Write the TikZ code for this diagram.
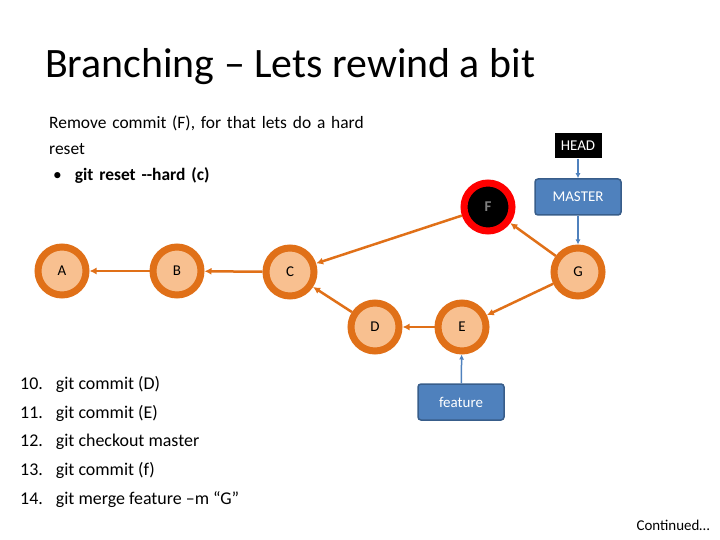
\documentclass[tikz,border=0pt]{standalone}
\usepackage{fontspec}
\setmainfont{Carlito}
\usepackage{xcolor}
\usetikzlibrary{arrows.meta,positioning}
\definecolor{commitfill}{HTML}{F8C090}
\definecolor{commitline}{HTML}{E07018}
\definecolor{refblue}{HTML}{4F81BD}
\definecolor{refline}{HTML}{385D8A}
\begin{document}
\begin{tikzpicture}[
  x=1bp, y=-1bp,
  commit/.style={circle, draw=commitline, fill=commitfill, line width=7bp, minimum size=48bp, inner sep=0pt, font=\fontsize{15}{18}\selectfont},
  gone/.style={commit, draw=red, fill=black, text=gray, font=\fontsize{15}{18}\selectfont\bfseries},
  ref/.style={draw=refline, fill=refblue, text=white, rounded corners=3bp, line width=1.5bp, minimum width=86bp, minimum height=36bp, font=\fontsize{15}{18}\selectfont},
  arr/.style={-{Latex[length=7bp,width=7bp]}, commitline, line width=2.5bp},
  refarr/.style={-{Latex[length=5bp,width=5bp]}, refblue, line width=1.5bp}
]
  \useasboundingbox (0,0) rectangle (720,540);
  \node[anchor=west, inner sep=0pt, font=\fontsize{42}{48}\selectfont] (title) at (45,67) {Branching – Lets rewind a bit};
  \node[anchor=north west, align=left, text width=315bp, inner sep=0pt, font=\fontsize{17.5}{26}\selectfont] (intro) at (49,116)
    {Remove commit (F), for that lets do a hard reset\\
     \hspace*{4bp}•\hspace{13bp}\textbf{git reset -{}-hard (c)}};

  \node[commit] (a) at (62,271) {A};
  \node[commit] (b) at (177,271) {B};
  \node[commit] (c) at (290,272) {C};
  \node[commit] (d) at (375,327) {D};
  \node[commit] (e) at (462,327) {E};
  \node[gone] (f) at (488,207) {F};
  \node[commit] (g) at (578,272) {G};

  \node[fill=black, text=white, minimum width=47bp, minimum height=25bp, font=\fontsize{15}{18}\selectfont] (head) at (578,146) {HEAD};
  \node[ref] (master) at (578,197) {MASTER};
  \node[ref] (feature) at (461,402) {feature};

  \draw[arr] (b) -- (a);
  \draw[arr] (c) -- (b);
  \draw[arr] (f) -- (c);
  \draw[arr] (d) -- (c);
  \draw[arr] (e) -- (d);
  \draw[arr] (g) -- (e);
  \draw[arr] (g) -- (f);
  \draw[refarr] (head) -- (master);
  \draw[refarr] (master) -- (g);
  \draw[refarr] (feature) -- (e);

  \node[anchor=north west, align=left, inner sep=0pt, font=\fontsize{18}{28.8}\selectfont] (steps) at (20,376)
    {10.\hspace{13bp}git commit (D)\\
     11.\hspace{13bp}git commit (E)\\
     12.\hspace{13bp}git checkout master\\
     13.\hspace{13bp}git commit (f)\\
     14.\hspace{13bp}git merge feature –m “G”};
  \node[anchor=east, inner sep=0pt, font=\fontsize{15}{18}\selectfont] (cont) at (710,525) {Continued…};
\end{tikzpicture}
\end{document}
